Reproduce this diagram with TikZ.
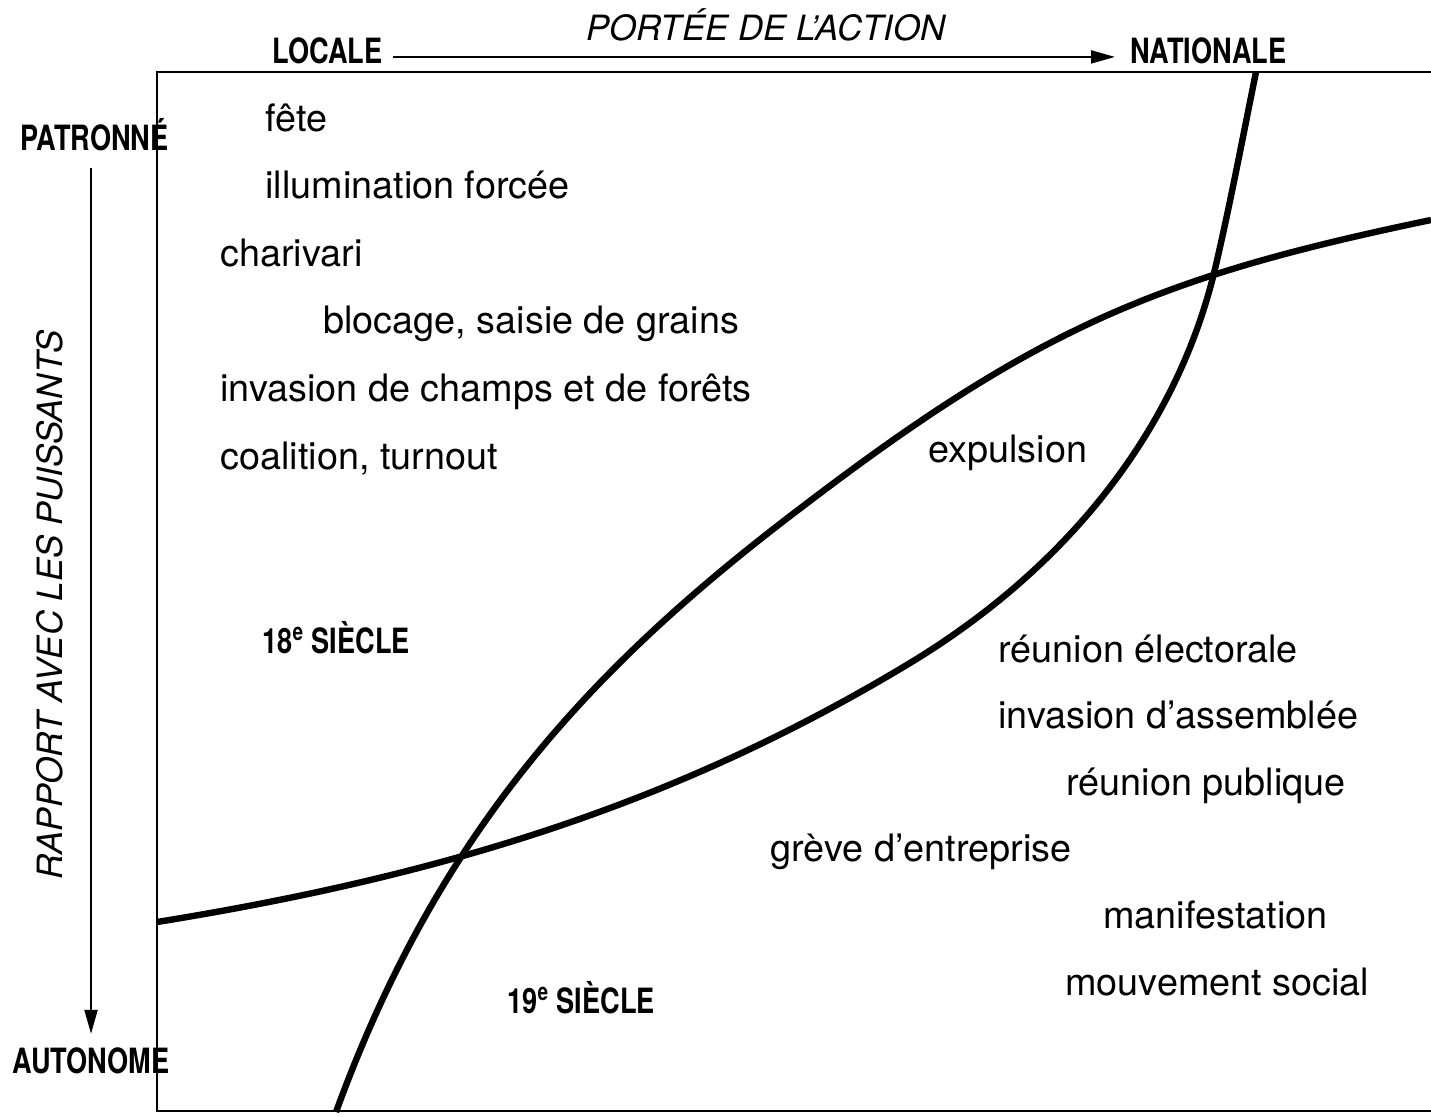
\documentclass[tikz,border=0pt]{standalone}
\usepackage{fontspec}
\setmainfont{TeX Gyre Heros}
\newfontfamily\condfont[FakeStretch=0.78]{TeX Gyre Heros}
\usetikzlibrary{arrows.meta}

\def\itemsize{\fontsize{18.9}{22}\selectfont}
\def\capsize{\fontsize{17.4}{21}\selectfont}

\begin{document}
\begin{tikzpicture}[x=0.5pt,y=-0.5pt,
    every node/.style={inner sep=0pt},
    item/.style={anchor=base west,font=\itemsize},
    borne/.style={anchor=base west,font=\condfont\bfseries\capsize},
    axetitre/.style={anchor=base,font=\itshape\capsize},
    courbe/.style={line width=3.2pt},
    axe/.style={line width=1pt,-{Triangle[length=12pt,width=6.5pt]}}]
  \useasboundingbox (0,0) rectangle (1431,1116);

  % cadre
  \draw[line width=1.4pt] (1431,72) -- (157,72) -- (157,1111) -- (1431,1111);

  % axes
  \node[borne] (locale) at (272,63) {LOCALE};
  \node[borne] (nationale) at (1130,63) {NATIONALE};
  \node[axetitre] (portee) at (766,40) {PORTÉE DE L’ACTION};
  \node[borne] (patronne) at (20,150) {PATRONNÉ};
  \node[borne] (autonome) at (12,1073) {AUTONOME};
  \node[axetitre,rotate=90] (rapport) at (62,605) {RAPPORT AVEC LES PUISSANTS};
  \draw[axe,shorten <=5pt,shorten >=7.5pt]
    ([yshift=-3.3pt]locale.east) -- ([yshift=-3.3pt]nationale.west);
  \draw[axe,shorten <=8.5pt,shorten >=6.5pt]
    (autonome.north |- patronne.south) -- (autonome.north);

  % courbes
  \draw[courbe] (336,1112) .. controls (438,832) and (590,668) .. (798,510)
    .. controls (1036,328) and (1157,277) .. (1431,220);
  \draw[courbe] (157,922) .. controls (454,874) and (683,800) .. (910,663)
    .. controls (1070,566) and (1177,428) .. (1215,269)
    .. controls (1230,205) and (1243,136) .. (1256,72);

  % siecles
  \node[borne] (xviii) at (262,653) {18\textsuperscript{e} SIÈCLE};
  \node[borne] (xix) at (507,1013) {19\textsuperscript{e} SIÈCLE};

  % formes d'action
  \foreach \nom/\x/\y/\texte in {fete/265/131/{fête},
      illumination/265/198/{illumination forcée},
      charivari/220/266/{charivari},
      blocage/323/333/{blocage, saisie de grains},
      invasion/220/401/{invasion de champs et de forêts},
      coalition/220/469/{coalition, turnout},
      expulsion/928/462/{expulsion},
      electorale/998/662/{réunion électorale},
      assemblee/998/728/{invasion d’assemblée},
      publique/1066/795/{réunion publique},
      greve/770/861/{grève d’entreprise},
      manif/1103/928/{manifestation},
      mouvement/1065/995/{mouvement social}}
    \node[item] (\nom) at (\x,\y) {\texte};
\end{tikzpicture}
\end{document}
